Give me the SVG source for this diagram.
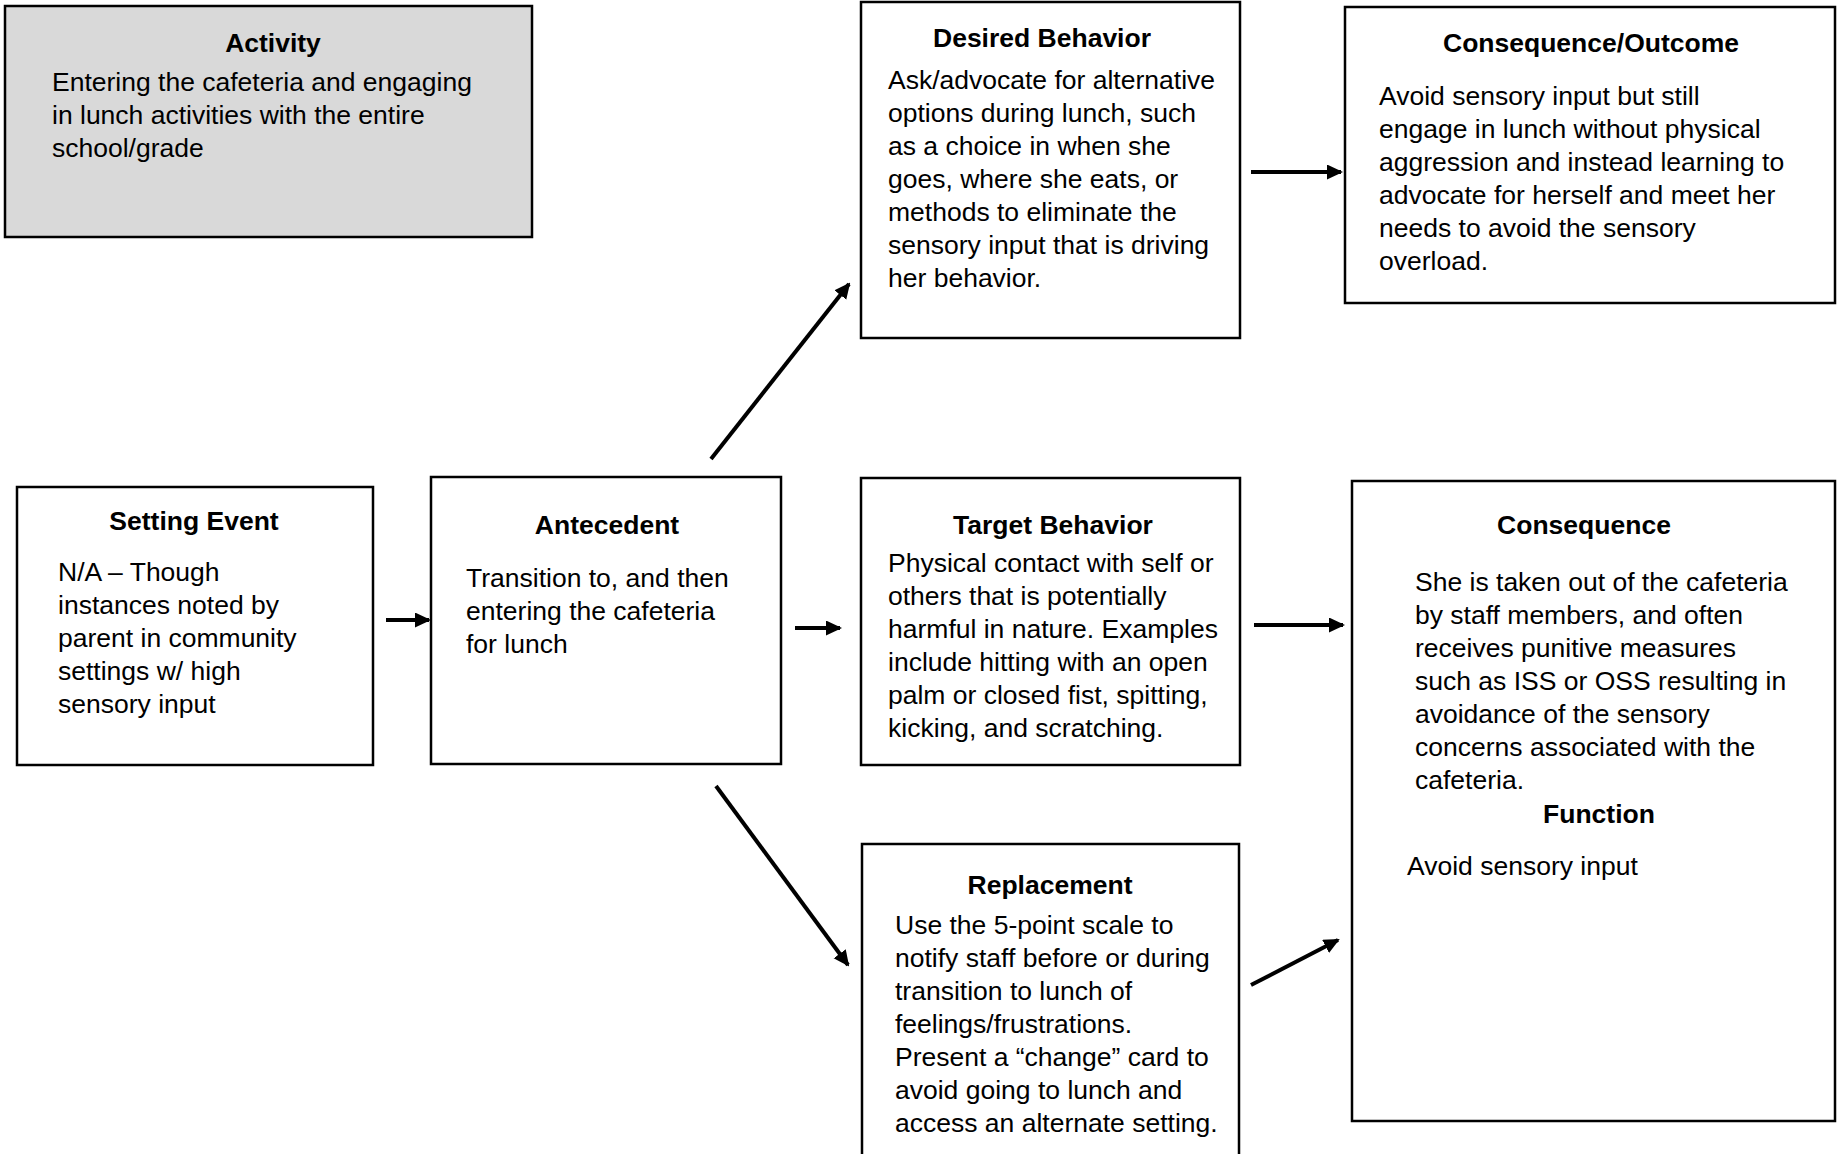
<svg xmlns="http://www.w3.org/2000/svg" width="1837" height="1154" viewBox="0 0 1837 1154">
<style>
.box{fill:#ffffff;stroke:#000000;stroke-width:2.5}
.grey{fill:#d9d9d9}
.t{font-family:"Liberation Sans",Arial,Helvetica,sans-serif;font-size:26.5px;fill:#000000}
.h{font-weight:bold;text-anchor:middle}
.c{stroke:#000000;stroke-width:4;fill:none;marker-end:url(#ah)}
</style>
<defs>
<marker id="ah" markerUnits="userSpaceOnUse" markerWidth="16" markerHeight="16" refX="14" refY="7.5" orient="auto">
<path d="M0,0 L16,7.5 L0,15 z" fill="#000000"/>
</marker>
</defs>
<rect width="1837" height="1154" fill="#ffffff"/>

<g id="activity">
<rect class="box grey" x="5" y="6" width="527" height="231"/>
<text class="t h" x="273" y="52">Activity</text>
<text class="t" x="52" y="91">Entering the cafeteria and engaging</text>
<text class="t" x="52" y="124">in lunch activities with the entire</text>
<text class="t" x="52" y="157">school/grade</text>
</g>

<g id="desired-behavior">
<rect class="box" x="861" y="2" width="379" height="336"/>
<text class="t h" x="1042" y="47">Desired Behavior</text>
<text class="t" x="888" y="89">Ask/advocate for alternative</text>
<text class="t" x="888" y="122">options during lunch, such</text>
<text class="t" x="888" y="155">as a choice in when she</text>
<text class="t" x="888" y="188">goes, where she eats, or</text>
<text class="t" x="888" y="221">methods to eliminate the</text>
<text class="t" x="888" y="254">sensory input that is driving</text>
<text class="t" x="888" y="287">her behavior.</text>
</g>

<g id="consequence-outcome">
<rect class="box" x="1345" y="7" width="490" height="296"/>
<text class="t h" x="1591" y="52">Consequence/Outcome</text>
<text class="t" x="1379" y="105">Avoid sensory input but still</text>
<text class="t" x="1379" y="138">engage in lunch without physical</text>
<text class="t" x="1379" y="171">aggression and instead learning to</text>
<text class="t" x="1379" y="204">advocate for herself and meet her</text>
<text class="t" x="1379" y="237">needs to avoid the sensory</text>
<text class="t" x="1379" y="270">overload.</text>
</g>

<g id="setting-event">
<rect class="box" x="17" y="487" width="356" height="278"/>
<text class="t h" x="194" y="530">Setting Event</text>
<text class="t" x="58" y="581">N/A – Though</text>
<text class="t" x="58" y="614">instances noted by</text>
<text class="t" x="58" y="647">parent in community</text>
<text class="t" x="58" y="680">settings w/ high</text>
<text class="t" x="58" y="713">sensory input</text>
</g>

<g id="antecedent">
<rect class="box" x="431" y="477" width="350" height="287"/>
<text class="t h" x="607" y="534">Antecedent</text>
<text class="t" x="466" y="587">Transition to, and then</text>
<text class="t" x="466" y="620">entering the cafeteria</text>
<text class="t" x="466" y="653">for lunch</text>
</g>

<g id="target-behavior">
<rect class="box" x="861" y="478" width="379" height="287"/>
<text class="t h" x="1053" y="534">Target Behavior</text>
<text class="t" x="888" y="572">Physical contact with self or</text>
<text class="t" x="888" y="605">others that is potentially</text>
<text class="t" x="888" y="638">harmful in nature. Examples</text>
<text class="t" x="888" y="671">include hitting with an open</text>
<text class="t" x="888" y="704">palm or closed fist, spitting,</text>
<text class="t" x="888" y="737">kicking, and scratching.</text>
</g>

<g id="consequence">
<rect class="box" x="1352" y="481" width="483" height="640"/>
<text class="t h" x="1584" y="534">Consequence</text>
<text class="t" x="1415" y="591">She is taken out of the cafeteria</text>
<text class="t" x="1415" y="624">by staff members, and often</text>
<text class="t" x="1415" y="657">receives punitive measures</text>
<text class="t" x="1415" y="690">such as ISS or OSS resulting in</text>
<text class="t" x="1415" y="723">avoidance of the sensory</text>
<text class="t" x="1415" y="756">concerns associated with the</text>
<text class="t" x="1415" y="789">cafeteria.</text>
<text class="t h" x="1599" y="823">Function</text>
<text class="t" x="1407" y="875">Avoid sensory input</text>
</g>

<g id="replacement">
<rect class="box" x="862" y="844" width="377" height="330"/>
<text class="t h" x="1050" y="894">Replacement</text>
<text class="t" x="895" y="934">Use the 5-point scale to</text>
<text class="t" x="895" y="967">notify staff before or during</text>
<text class="t" x="895" y="1000">transition to lunch of</text>
<text class="t" x="895" y="1033">feelings/frustrations.</text>
<text class="t" x="895" y="1066">Present a “change” card to</text>
<text class="t" x="895" y="1099">avoid going to lunch and</text>
<text class="t" x="895" y="1132">access an alternate setting.</text>
</g>

<g id="connectors">
<line class="c" x1="386" y1="620" x2="429" y2="620"/>
<line class="c" x1="795" y1="628" x2="840" y2="628"/>
<line class="c" x1="1254" y1="625" x2="1343" y2="625"/>
<line class="c" x1="1251" y1="172" x2="1341" y2="172"/>
<line class="c" x1="711" y1="459" x2="849" y2="284"/>
<line class="c" x1="716" y1="786" x2="848" y2="965"/>
<line class="c" x1="1251" y1="985" x2="1338" y2="940"/>
</g>
</svg>
